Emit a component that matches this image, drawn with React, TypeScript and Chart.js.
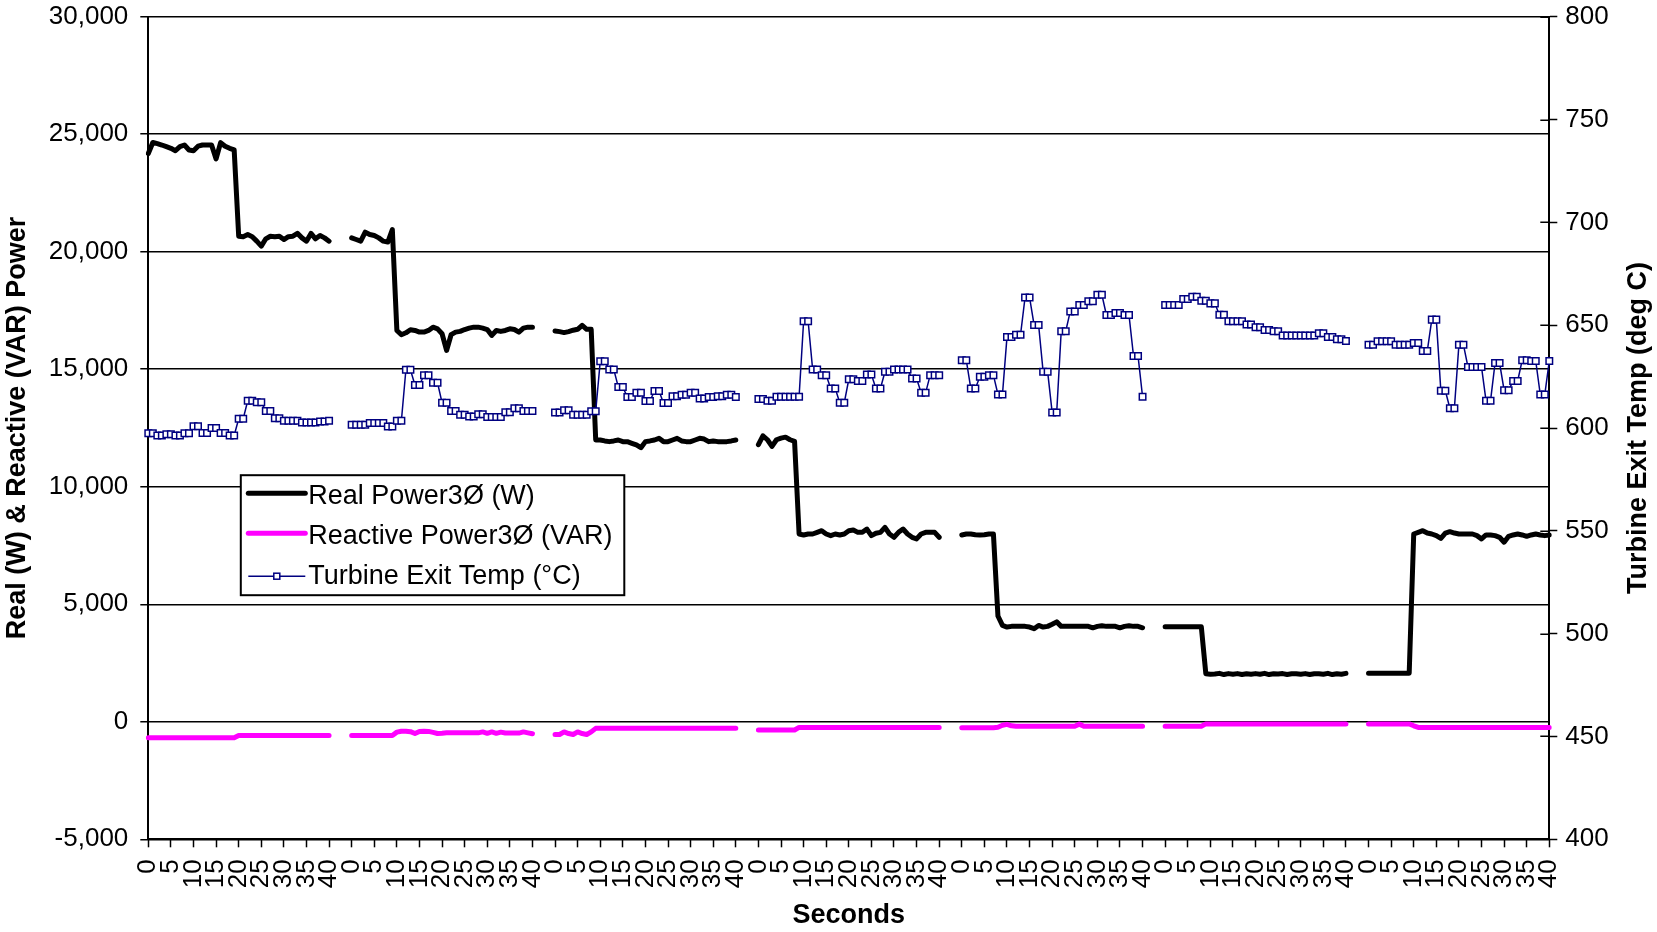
import React, { useEffect, useRef } from 'react';
import { Chart, registerables } from 'chart.js';

Chart.register(...registerables);

// ---------- data ----------
// seconds within each 41-second run (tick labels)
const SECONDS = [0, 1, 2, 3, 4, 5, 6, 7, 8, 9, 10, 11, 12, 13, 14, 15, 16, 17, 18, 19, 20,
  21, 22, 23, 24, 25, 26, 27, 28, 29, 30, 31, 32, 33, 34, 35, 36, 37, 38, 39, 40];
// blank categories between consecutive runs
const RUN_GAP = 4;

// Real Power 3Ø (W), one array per run
const REAL_1 = [24180, 24650, 24600, 24540, 24470, 24400, 24300, 24470, 24540, 24330,
  24300, 24490, 24540, 24540, 24540, 23950, 24640, 24490, 24400, 24330,
  20660, 20640, 20730, 20640, 20450, 20240, 20550, 20660, 20640, 20660,
  20520, 20640, 20660, 20780, 20590, 20450, 20780, 20550, 20690, 20590, 20450];
const REAL_2 = [20590, 20520, 20450, 20830, 20730, 20690, 20590, 20450, 20410, 20940,
  16650, 16470, 16550, 16680, 16650, 16580, 16580, 16650, 16790, 16720,
  16510, 15800, 16470, 16580, 16610, 16690, 16750, 16790, 16790, 16750,
  16690, 16440, 16650, 16610, 16650, 16720, 16690, 16580, 16750, 16790, 16790];
const REAL_3 = [16630, 16600, 16560, 16600, 16660, 16700, 16870, 16700, 16700, 11990,
  11990, 11950, 11920, 11950, 11990, 11920, 11920, 11850, 11780, 11660,
  11920, 11950, 11990, 12060, 11920, 11920, 11990, 12060, 11950, 11920,
  11920, 11990, 12060, 12030, 11920, 11950, 11920, 11920, 11920, 11950, 11990];
const REAL_4 = [11790, 12170, 12000, 11720, 12000, 12070, 12110, 12000, 11930, 7990,
  7950, 7990, 7990, 8060, 8130, 7990, 7920, 7990, 7950, 7990,
  8130, 8160, 8060, 8060, 8200, 7920, 8020, 8060, 8270, 7990,
  7850, 8060, 8200, 7990, 7850, 7780, 7990, 8060, 8060, 8060, 7850];
const REAL_5 = [7950, 7990, 7990, 7960, 7950, 7960, 7990, 7990, 4500, 4100,
  4030, 4060, 4060, 4060, 4060, 4030, 3960, 4100, 4030, 4060,
  4150, 4250, 4060, 4060, 4060, 4060, 4060, 4060, 4060, 4000,
  4060, 4090, 4060, 4060, 4060, 4000, 4060, 4090, 4060, 4060, 4000];
const REAL_6 = [4040, 4040, 4040, 4040, 4040, 4040, 4040, 4040, 4040, 2040,
  2020, 2030, 2060, 2010, 2050, 2020, 2050, 2010, 2040, 2020,
  2050, 2020, 2060, 2010, 2040, 2030, 2050, 2010, 2040, 2040,
  2020, 2050, 2010, 2040, 2040, 2020, 2060, 2010, 2040, 2020, 2060];
const REAL_7 = [2070, 2070, 2070, 2070, 2070, 2070, 2060, 2070, 2070, 2070,
  7990, 8060, 8130, 8030, 7990, 7920, 7800, 8030, 8090, 8030,
  7990, 7990, 7990, 7990, 7920, 7780, 7950, 7950, 7920, 7850,
  7640, 7890, 7950, 7990, 7950, 7890, 7950, 7990, 7950, 7920, 7950];

// Reactive Power 3Ø (VAR)
const REACTIVE_1 = [-680, -680, -680, -680, -680, -680, -680, -680, -680, -680,
  -680, -680, -680, -680, -680, -680, -680, -680, -680, -680,
  -580, -580, -580, -580, -580, -580, -580, -580, -580, -580,
  -580, -580, -580, -580, -580, -580, -580, -580, -580, -580, -580];
const REACTIVE_2 = [-580, -580, -580, -580, -580, -580, -580, -580, -580, -580,
  -440, -400, -400, -420, -500, -410, -400, -410, -450, -500,
  -490, -470, -470, -470, -470, -470, -470, -470, -470, -430,
  -490, -430, -490, -440, -480, -480, -480, -480, -430, -470, -510];
const REACTIVE_3 = [-540, -540, -430, -500, -540, -430, -500, -540, -430, -280,
  -280, -280, -280, -280, -280, -280, -280, -280, -280, -280,
  -280, -280, -280, -280, -280, -280, -280, -280, -280, -280,
  -280, -280, -280, -280, -280, -280, -280, -280, -280, -280, -280];
const REACTIVE_4 = [-350, -350, -350, -350, -350, -350, -350, -350, -350, -240,
  -240, -240, -240, -240, -240, -240, -240, -240, -240, -240,
  -240, -240, -240, -240, -240, -240, -240, -240, -240, -240,
  -240, -240, -240, -240, -240, -240, -240, -240, -240, -240, -240];
const REACTIVE_5 = [-250, -250, -250, -250, -250, -250, -250, -250, -230, -150,
  -110, -170, -190, -190, -190, -190, -190, -190, -190, -190,
  -190, -190, -190, -190, -190, -190, -100, -190, -190, -190,
  -190, -190, -190, -190, -190, -190, -190, -190, -190, -190, -190];
const REACTIVE_6 = [-190, -190, -190, -190, -190, -190, -190, -190, -190, -90,
  -90, -90, -90, -90, -90, -90, -90, -90, -90, -90,
  -90, -90, -90, -90, -90, -90, -90, -90, -90, -90,
  -90, -90, -90, -90, -90, -90, -90, -90, -90, -90, -90];
const REACTIVE_7 = [-90, -90, -90, -90, -90, -90, -90, -90, -90, -90,
  -170, -240, -240, -240, -240, -240, -240, -240, -240, -240,
  -240, -240, -240, -240, -240, -240, -240, -240, -240, -240,
  -240, -240, -240, -240, -240, -240, -240, -240, -240, -240, -240];

// Turbine Exit Temp (°C)
const TEMP_1 = [597.4, 597.4, 596.4, 596.4, 597.0, 597.0, 596.4, 596.4, 597.4, 597.4,
  600.8, 600.8, 597.6, 597.6, 600.0, 600.0, 597.6, 597.6, 596.4, 596.4,
  604.5, 604.5, 613.2, 613.2, 612.5, 612.5, 608.3, 608.3, 604.8, 604.8,
  603.5, 603.5, 603.5, 603.5, 602.7, 602.7, 602.7, 602.7, 603.2, 603.2, 603.5];
const TEMP_2 = [601.6, 601.6, 601.6, 601.6, 602.4, 602.4, 602.4, 602.4, 600.7, 600.7,
  603.5, 603.5, 628.3, 628.3, 620.9, 620.9, 625.7, 625.7, 622.0, 622.0,
  612.3, 612.3, 608.3, 608.3, 606.4, 606.4, 605.6, 605.6, 606.7, 606.7,
  605.4, 605.4, 605.4, 605.4, 607.7, 607.7, 609.6, 609.6, 608.3, 608.3, 608.3];
const TEMP_3 = [607.5, 607.5, 608.6, 608.6, 606.5, 606.5, 606.5, 606.5, 608.1, 608.1,
  632.4, 632.4, 628.4, 628.4, 619.9, 619.9, 615.1, 615.1, 617.1, 617.1,
  613.1, 613.1, 618.0, 618.0, 612.2, 612.2, 615.4, 615.4, 616.2, 616.2,
  617.1, 617.1, 614.3, 614.3, 615.1, 615.1, 615.4, 615.4, 616.2, 616.2, 615.1];
const TEMP_4 = [614.1, 614.1, 613.3, 613.3, 615.2, 615.2, 615.2, 615.2, 615.2, 615.2,
  651.9, 651.9, 628.4, 628.4, 625.7, 625.7, 619.2, 619.2, 612.3, 612.3,
  623.7, 623.7, 622.9, 622.9, 626.0, 626.0, 619.2, 619.2, 627.3, 627.3,
  628.4, 628.4, 628.4, 628.4, 624.1, 624.1, 617.1, 617.1, 625.7, 625.7, 625.7];
const TEMP_5 = [632.9, 632.9, 619.2, 619.2, 624.9, 624.9, 625.7, 625.7, 616.3, 616.3,
  644.2, 644.2, 645.3, 645.3, 663.5, 663.5, 650.1, 650.1, 627.3, 627.3,
  607.5, 607.5, 647.1, 647.1, 656.7, 656.7, 659.8, 659.8, 661.6, 661.6,
  664.8, 664.8, 655.0, 655.0, 655.9, 655.9, 655.0, 655.0, 635.0, 635.0, 615.2];
const TEMP_6 = [659.8, 659.8, 659.8, 659.8, 662.7, 662.7, 663.8, 663.8, 661.9, 661.9,
  660.6, 660.6, 655.1, 655.1, 651.9, 651.9, 651.9, 651.9, 650.3, 650.3,
  649.0, 649.0, 647.7, 647.7, 647.1, 647.1, 645.0, 645.0, 645.0, 645.0,
  645.0, 645.0, 645.0, 645.0, 646.1, 646.1, 644.2, 644.2, 643.1, 643.1, 642.3];
const TEMP_7 = [640.5, 640.5, 642.2, 642.2, 642.2, 642.2, 640.5, 640.5, 640.5, 640.5,
  641.3, 641.3, 637.4, 637.4, 652.7, 652.7, 618.1, 618.1, 609.6, 609.6,
  640.5, 640.5, 629.7, 629.7, 629.7, 629.7, 613.3, 613.3, 631.6, 631.6,
  618.4, 618.4, 622.9, 622.9, 632.9, 632.9, 632.6, 632.6, 616.3, 616.3, 632.6];

const REAL_RUNS = [REAL_1, REAL_2, REAL_3, REAL_4, REAL_5, REAL_6, REAL_7];
const REACTIVE_RUNS = [REACTIVE_1, REACTIVE_2, REACTIVE_3, REACTIVE_4, REACTIVE_5, REACTIVE_6, REACTIVE_7];
const TEMP_RUNS = [TEMP_1, TEMP_2, TEMP_3, TEMP_4, TEMP_5, TEMP_6, TEMP_7];

const SERIES_NAMES = ['Real Power3Ø (W)', 'Reactive Power3Ø (VAR)', 'Turbine Exit Temp (°C)'];
const LEFT_TITLE = 'Real (W) & Reactive (VAR) Power';
const RIGHT_TITLE = 'Turbine Exit Temp (deg C)';
const X_TITLE = 'Seconds';

// ---------- helpers ----------
function joinRuns(runs: number[][]): (number | null)[] {
  const out: (number | null)[] = [];
  runs.forEach((r, i) => {
    out.push(...r);
    if (i < runs.length - 1) for (let k = 0; k < RUN_GAP; k++) out.push(null);
  });
  return out;
}
function buildLabels(n: number): string[] {
  const out: string[] = [];
  for (let i = 0; i < n; i++) {
    SECONDS.forEach((s) => out.push(String(s)));
    if (i < n - 1) for (let k = 0; k < RUN_GAP; k++) out.push('');
  }
  return out;
}

const FONT = '"Liberation Sans", Arial, Helvetica, sans-serif';
const NAVY = '#000080';
const MAGENTA = '#ff00ff';

const overlayPlugin = {
  id: 'overlay',
  afterDraw(chart: any) {
    const { ctx, chartArea } = chart;
    const y1 = chart.scales.y1;
    ctx.save();
    // inner tick marks on the right axis
    ctx.strokeStyle = '#000';
    ctx.lineWidth = 1.5;
    y1.ticks.forEach((t: any) => {
      const y = Math.round(y1.getPixelForValue(t.value)) + 0.25;
      ctx.beginPath();
      ctx.moveTo(chartArea.right, y);
      ctx.lineTo(chartArea.right - 9, y);
      ctx.stroke();
    });
    ctx.restore();

    // right axis title, reading bottom-to-top
    ctx.save();
    ctx.font = `bold 27px ${FONT}`;
    ctx.fillStyle = '#000';
    ctx.textAlign = 'center';
    ctx.textBaseline = 'middle';
    ctx.translate(y1.right - 18, (chartArea.top + chartArea.bottom) / 2);
    ctx.rotate(-Math.PI / 2);
    ctx.fillText(RIGHT_TITLE, 0, 0);
    ctx.restore();

    // legend box
    const bx = chartArea.left + 92.5;
    const by = chartArea.top + 458.5;
    const bw = 383.5;
    const bh = 120;
    ctx.save();
    ctx.fillStyle = '#fff';
    ctx.fillRect(bx, by, bw, bh);
    ctx.strokeStyle = '#000';
    ctx.lineWidth = 2;
    ctx.strokeRect(bx, by, bw, bh);
    const rows = [20, 60, 100];
    const x0 = bx + 7.5;
    const x1 = bx + 64.5;
    ctx.lineCap = 'round';
    // real
    ctx.strokeStyle = '#000';
    ctx.lineWidth = 5;
    ctx.beginPath(); ctx.moveTo(x0, by + rows[0] - 2); ctx.lineTo(x1, by + rows[0] - 2); ctx.stroke();
    // reactive
    ctx.strokeStyle = MAGENTA;
    ctx.beginPath(); ctx.moveTo(x0, by + rows[1] - 2); ctx.lineTo(x1, by + rows[1] - 2); ctx.stroke();
    // temp
    ctx.lineCap = 'butt';
    ctx.strokeStyle = NAVY;
    ctx.lineWidth = 1.5;
    ctx.beginPath(); ctx.moveTo(x0, by + rows[2] + 1); ctx.lineTo(x1, by + rows[2] + 1); ctx.stroke();
    const mx = (x0 + x1) / 2;
    ctx.fillStyle = '#fff';
    ctx.fillRect(mx - 3, by + rows[2] + 1 - 3, 6, 6);
    ctx.strokeRect(mx - 3, by + rows[2] + 1 - 3, 6, 6);
    // text
    ctx.fillStyle = '#000';
    ctx.font = `27px ${FONT}`;
    ctx.textAlign = 'left';
    ctx.textBaseline = 'middle';
    SERIES_NAMES.forEach((name, i) => ctx.fillText(name, bx + 67.5, by + rows[i] + 1));
    ctx.restore();
  },
};

export default function App() {
  const canvasRef = useRef<HTMLCanvasElement | null>(null);

  useEffect(() => {
    document.body.style.margin = '0';
    const canvas = canvasRef.current;
    if (!canvas) return;
    const labels = buildLabels(REAL_RUNS.length);
    const tickFont = { family: FONT, size: 26 };
    const titleFont = { family: FONT, size: 27, weight: 'bold' as const };

    const chart = new Chart(canvas, {
      type: 'line',
      data: {
        labels,
        datasets: [
          {
            label: SERIES_NAMES[2],
            data: joinRuns(TEMP_RUNS),
            yAxisID: 'y1',
            borderColor: NAVY,
            borderWidth: 1.5,
            pointStyle: 'rect',
            pointRadius: 4.6,
            pointBackgroundColor: '#fff',
            pointBorderColor: NAVY,
            pointBorderWidth: 1.5,
            tension: 0,
            order: 0,
          },
          {
            label: SERIES_NAMES[0],
            data: joinRuns(REAL_RUNS),
            yAxisID: 'y',
            borderColor: '#000',
            borderWidth: 5,
            pointRadius: 0,
            borderCapStyle: 'round',
            borderJoinStyle: 'round',
            tension: 0,
            order: 1,
          },
          {
            label: SERIES_NAMES[1],
            data: joinRuns(REACTIVE_RUNS),
            yAxisID: 'y',
            borderColor: MAGENTA,
            borderWidth: 5,
            pointRadius: 0,
            borderCapStyle: 'round',
            borderJoinStyle: 'round',
            tension: 0,
            order: 2,
          },
        ],
      },
      options: {
        responsive: false,
        animation: false,
        devicePixelRatio: 1,
        events: [],
        layout: { padding: { top: 16.7, left: 0, right: 0, bottom: 0 } },
        plugins: { legend: { display: false }, tooltip: { enabled: false } },
        scales: {
          x: {
            type: 'category',
            offset: false,
            grid: {
              display: true,
              drawOnChartArea: false,
              drawTicks: true,
              tickLength: 8,
              tickWidth: 1.5,
              tickColor: (c: any) => (c.index % 5 === 0 ? '#000' : 'rgba(0,0,0,0)'),
            },
            border: { display: true, color: '#000', width: 2 },
            ticks: {
              autoSkip: false,
              minRotation: 90,
              maxRotation: 90,
              padding: 12,
              color: '#000',
              font: tickFont,
              callback: function (this: any, value: any, index: number) {
                return index % 5 === 0 ? this.getLabelForValue(value) : '';
              },
            },
            title: {
              display: true,
              text: X_TITLE,
              color: '#000',
              font: titleFont,
              padding: { top: 0, bottom: 0 },
            },
            afterFit: (s: any) => { s.height = 92.7; s.paddingLeft = 0; s.paddingRight = 0; },
          },
          y: {
            type: 'linear',
            position: 'left',
            min: -5000,
            max: 30000,
            grid: { color: '#000', lineWidth: 1.5, tickLength: 8, tickColor: '#000', tickWidth: 1.5 },
            border: { display: true, color: '#000', width: 2 },
            ticks: {
              stepSize: 5000,
              padding: 12,
              color: '#000',
              font: tickFont,
              callback: (v: any) => Number(v).toLocaleString('en-US'),
            },
            title: {
              display: true,
              text: LEFT_TITLE,
              color: '#000',
              font: titleFont,
              padding: { top: 1.8, bottom: 0 },
            },
            afterFit: (s: any) => { s.width = 148.3; s.paddingTop = 0; s.paddingBottom = 0; },
          },
          y1: {
            type: 'linear',
            position: 'right',
            min: 400,
            max: 800,
            grid: { drawOnChartArea: false, tickLength: 8, tickColor: '#000', tickWidth: 1.5 },
            border: { display: true, color: '#000', width: 2 },
            ticks: { stepSize: 50, padding: 8, color: '#000', font: tickFont },
            afterFit: (s: any) => { s.width = 107.7; s.paddingTop = 0; s.paddingBottom = 0; },
          },
        },
      },
      plugins: [overlayPlugin],
    });
    return () => chart.destroy();
  }, []);

  return (
    <div style={{ width: 1657, height: 932, background: '#fff' }}>
      <canvas ref={canvasRef} width={1657} height={932} style={{ display: 'block' }} />
    </div>
  );
}
